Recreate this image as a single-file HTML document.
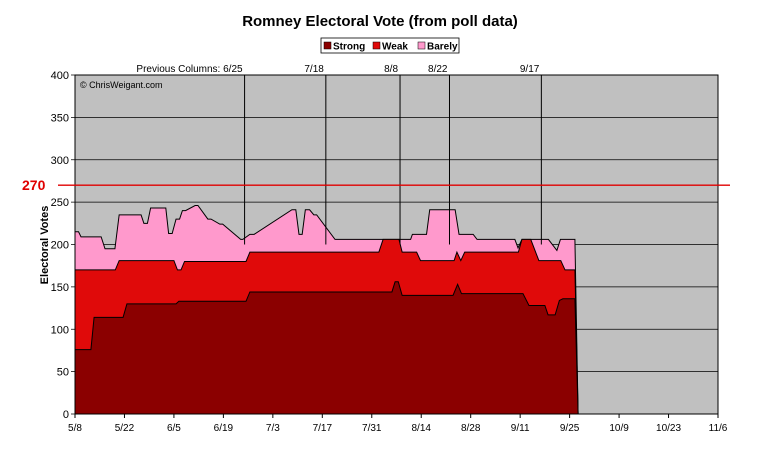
<!DOCTYPE html>
<html><head><meta charset="utf-8"><style>
body{margin:0;background:#fff;font-family:"Liberation Sans",Arial,sans-serif;}
svg text{font-family:"Liberation Sans",Arial,sans-serif;}
</style></head><body>
<svg id="chart" width="760" height="449">
<text x="380" y="26" text-anchor="middle" font-size="15" font-weight="bold">Romney Electoral Vote (from poll data)</text>
<g>
<rect x="321" y="38" width="138" height="15" fill="#fff" stroke="#000" stroke-width="0.8"/>
<rect x="324" y="42" width="7" height="7" fill="#8b0000" stroke="#000" stroke-width="0.5"/>
<text x="333" y="49.5" font-size="10" font-weight="bold">Strong</text>
<rect x="373" y="42" width="7" height="7" fill="#e00a0a" stroke="#000" stroke-width="0.5"/>
<text x="382" y="49.5" font-size="10" font-weight="bold">Weak</text>
<rect x="418" y="42" width="7" height="7" fill="#ff99cc" stroke="#000" stroke-width="0.5"/>
<text x="427" y="49.5" font-size="10" font-weight="bold">Barely</text>
</g>
<text transform="translate(48,245) rotate(-90)" text-anchor="middle" font-size="11" font-weight="bold">Electoral Votes</text>
<g id="plot"></g>
</svg>
<script>
const xTickLabels=["5/8","5/22","6/5","6/19","7/3","7/17","7/31","8/14","8/28","9/11","9/25","10/9","10/23","11/6"];
const yTickLabels=[0,50,100,150,200,250,300,350,400];
// cumulative top lines: [day offset from 5/8, electoral votes]
const barelyDays=[0,1,1.7,7.4,8.5,11.3,12.5,18.7,19.5,20.5,21.4,25.7,26.5,27.5,28.6,29.6,30.4,31.3,34,34.8,37.6,38.5,41,41.8,46.9,47.5,49.5,50.7,61.4,62.5,63.4,64.3,65.2,66.4,67.6,68.4,73.6,74.5,94,95,95.5,99.5,100.4,107.6,108.7,112.7,113.8,124.5,125.4,126.5,134,136.4,137.4,138.6,141.5,142.4];
const barelyTotal=[215,215,209,209,195,195,235,235,225,225,243,243,213,213,230,230,240,240,246,246,230,230,224,224,206,206,212,212,241,241,212,212,241,241,235,235,206,206,206,206,212,212,241,241,212,212,206,206,196,206,206,193,206,206,206,0];
const weakDays=[0,11.4,12.5,28,29,30,31,48.4,49.5,86,87.2,91.7,92.6,96.7,97.8,107.3,108.1,109.2,110.3,125.5,126.5,129,131.3,137.5,138.7,141.5,142.4];
const weakTotal=[170,170,181,181,170,170,180,180,191,191,206,206,191,191,181,181,191,181,191,191,206,206,181,181,170,170,0];
const strongDays=[0,4.5,5.4,13.6,14.7,28.6,29.4,48.4,49.5,89.7,90.6,91.5,92.6,107,108.3,109.4,126.8,128.5,133,133.9,135.9,137.1,138.1,141.5,142.4];
const strongTotal=[76,76,114,114,130,130,133,133,144,144,156,156,140,140,153,142,142,128,128,117,117,134,136,136,0];
const markerDays=[48,71,92,106,132];
const markerLabels=["Previous Columns: 6/25","7/18","8/8","8/22","9/17"];
const majority=270;

const L=75,R=718,T=75,B=414,ns="http://www.w3.org/2000/svg";
const xS=d=>L+d*(R-L)/182;
const yS=v=>B-v*(B-T)/400;
const g=document.getElementById('plot');
function mk(t,a){const e=document.createElementNS(ns,t);for(const k in a)e.setAttribute(k,a[k]);g.appendChild(e);return e;}
const bg=mk('rect',{x:L,y:T,width:R-L,height:B-T,fill:'#c0c0c0'});


yTickLabels.forEach(v=>{
 const ln=mk('line',{x1:L-4,x2:R,y1:yS(v),y2:yS(v),stroke:'#000','stroke-width':0.8});
 
 
 const t=mk('text',{x:L-6,y:yS(v)+4,'text-anchor':'end','font-size':11});
 t.textContent=v;
 
 
});
xTickLabels.forEach((s,i)=>{
 const x=xS(i*14);
 const tk=mk('line',{x1:x,x2:x,y1:B,y2:B+4,stroke:'#000'});
 
 
 const t=mk('text',{x:x,y:B+17,'text-anchor':'middle','font-size':10});
 t.textContent=s;
 
 
});
function area(days,vals,fill,name){
 let d='M'+xS(days[0])+','+yS(0);
 days.forEach((dd,i)=>{d+=' L'+xS(dd)+','+yS(vals[i]);});
 d+=' L'+xS(days[days.length-1])+','+yS(0)+' Z';
 const p=mk('path',{d:d,fill:fill,stroke:'#000','stroke-width':1});
 
 
}
area(barelyDays,barelyTotal,'#ff99cc','barely-area');
area(weakDays,weakTotal,'#e00a0a','weak-area');
area(strongDays,strongTotal,'#8b0000','strong-area');
markerDays.forEach((d,i)=>{
 const x=xS(d);
 const ln=mk('line',{x1:x,x2:x,y1:T,y2:yS(200),stroke:'#000','stroke-width':1});
 
 
 const t=mk('text',{x:x-2,y:T-3,'text-anchor':'end','font-size':10});
 t.textContent=markerLabels[i];
 
 
});
const brd=mk('rect',{x:L,y:T,width:R-L,height:B-T,fill:'none',stroke:'#000','stroke-width':1});


const ml=mk('line',{x1:58,x2:730,y1:yS(majority),y2:yS(majority),stroke:'#e00000','stroke-width':1.3});


const mt=mk('text',{x:22,y:yS(majority)+5,'font-size':14,'font-weight':'bold',fill:'#e00000'});
mt.textContent=majority;


const c=mk('text',{x:80,y:88,'font-size':9});
c.textContent='© ChrisWeigant.com';


</script>
</body></html>
